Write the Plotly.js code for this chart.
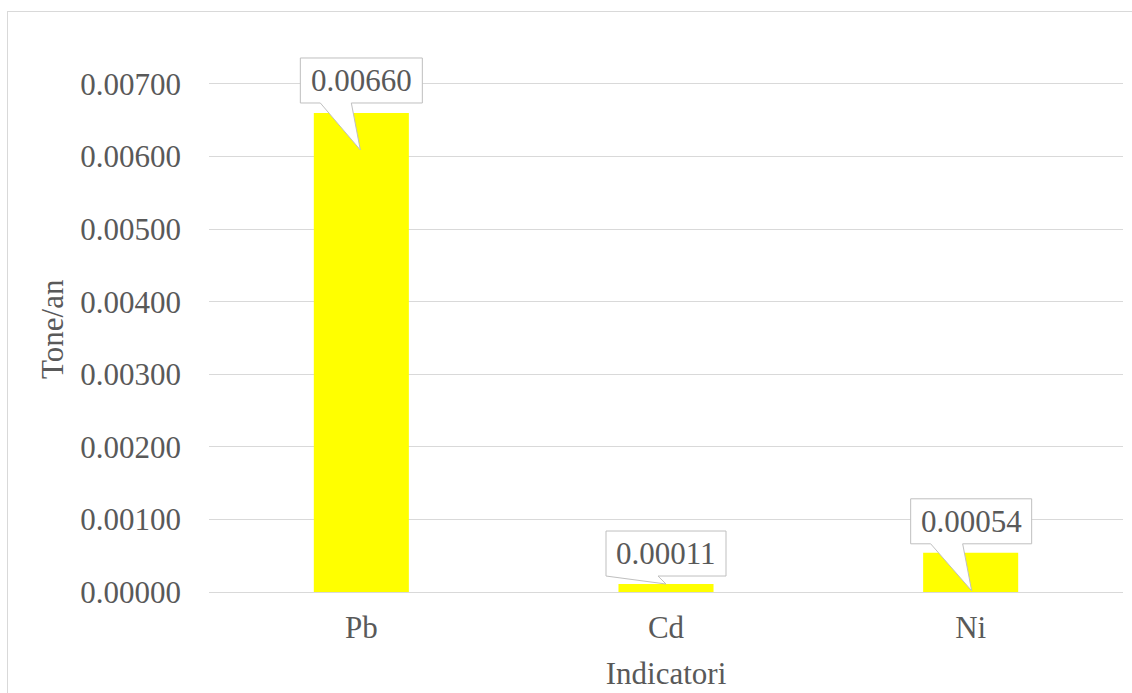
<!DOCTYPE html>
<html>
<head>
<meta charset="utf-8">
<script src="https://cdn.plot.ly/plotly-3.0.1.min.js"></script>
<style>
  html, body { margin: 0; padding: 0; background: #ffffff; overflow: hidden; }
  #frame { position: absolute; left: 7px; top: 11px; width: 2000px; height: 2000px;
           border-left: 1px solid #d9d9d9; border-top: 1px solid #d9d9d9; }
  #chart { position: absolute; left: 0; top: 0; width: 1132px; height: 693px; }
</style>
</head>
<body>
<div id="frame"></div>
<div id="chart"></div>
<script>
// ---- data ----
const categories = ["Pb", "Cd", "Ni"];
const values = [0.00660, 0.00011, 0.00054];
const yTickValues = [0, 0.001, 0.002, 0.003, 0.004, 0.005, 0.006, 0.007];
const xTitle = "Indicatori";
const yTitle = "Tone/an";

// ---- callout geometry (pixels relative to the bar top, y up) ----
const callouts = [
  { left: -61, right: 61, bottom: 10, top: 55, baseL: -41, baseR: -10, tipX: -1, tipY: -37 },
  { left: -60, right: 60, bottom: 8,  top: 53, baseL: -60, baseR: -8,  tipX: 0,  tipY: 0 },
  { left: -60, right: 61, bottom: 9,  top: 54, baseL: -40, baseR: -8,  tipX: 1,  tipY: -38 }
];

const FONT = "Liberation Serif, Times New Roman, serif";
const TXT = "#595959";
const GRID = "#d9d9d9";

// plot area geometry: axis max tick at 84px, zero at 592px; extra headroom so callouts are not clipped
const W = 1132, H = 693;
const yTopTick = yTickValues[yTickValues.length - 1];
const pxZero = 592, pxTop = 84;
const pxPerUnit = (pxZero - pxTop) / yTopTick;
const yMax = yTopTick * 1.12;
const plotH = yMax * pxPerUnit;
const mTop = pxZero - plotH;
const mBottom = H - pxZero;

const shapes = [];
const annotations = [];
categories.forEach((c, i) => {
  const g = callouts[i];
  const path = `M ${g.left},${g.top} L ${g.right},${g.top} L ${g.right},${g.bottom} ` +
               `L ${g.baseR},${g.bottom} L ${g.tipX},${g.tipY} L ${g.baseL},${g.bottom} ` +
               `L ${g.left},${g.bottom} Z`;
  shapes.push({
    type: "path", xref: "x", yref: "y",
    xsizemode: "pixel", ysizemode: "pixel",
    xanchor: i, yanchor: values[i],
    path: path,
    fillcolor: "#ffffff",
    line: { color: "#bfbfbf", width: 1 },
    layer: "above"
  });
  annotations.push({
    x: c, y: values[i], xref: "x", yref: "y",
    text: values[i].toFixed(5),
    showarrow: false,
    xanchor: "center", yanchor: "middle",
    xshift: (g.left + g.right) / 2,
    yshift: (g.top + g.bottom) / 2,
    font: { family: FONT, size: 31, color: TXT }
  });
});

// y-axis title as a rotated annotation
annotations.push({
  xref: "paper", x: 0, xshift: -156, xanchor: "center",
  yref: "y", y: yTopTick / 2, yshift: 9, yanchor: "middle",
  text: yTitle, textangle: -90, showarrow: false,
  font: { family: FONT, size: 31, color: TXT }
});

const trace = {
  type: "bar",
  x: categories,
  y: values,
  marker: { color: "#ffff00", line: { width: 0 } },
  hoverinfo: "skip"
};

const layout = {
  width: W, height: H,
  margin: { l: 209, r: 9, t: mTop, b: mBottom },
  paper_bgcolor: "rgba(0,0,0,0)",
  plot_bgcolor: "rgba(0,0,0,0)",
  showlegend: false,
  bargap: 0.688,
  font: { family: FONT, size: 31, color: TXT },
  xaxis: {
    type: "category",
    showgrid: false,
    showline: true, linecolor: GRID, linewidth: 1,
    ticks: "", ticklabelstandoff: 8,
    tickfont: { family: FONT, size: 31, color: TXT },
    title: { text: xTitle, font: { family: FONT, size: 31, color: TXT }, standoff: 18 },
    fixedrange: true
  },
  yaxis: {
    range: [0, yMax],
    tickvals: yTickValues,
    tickformat: ".5f",
    showgrid: true, gridcolor: GRID, gridwidth: 1,
    zeroline: false, showline: false,
    ticks: "", ticklabelstandoff: 27,
    tickfont: { family: FONT, size: 31, color: TXT },
    fixedrange: true
  },
  shapes: shapes,
  annotations: annotations
};

Plotly.newPlot("chart", [trace], layout, { displayModeBar: false, staticPlot: true });
</script>
</body>
</html>
